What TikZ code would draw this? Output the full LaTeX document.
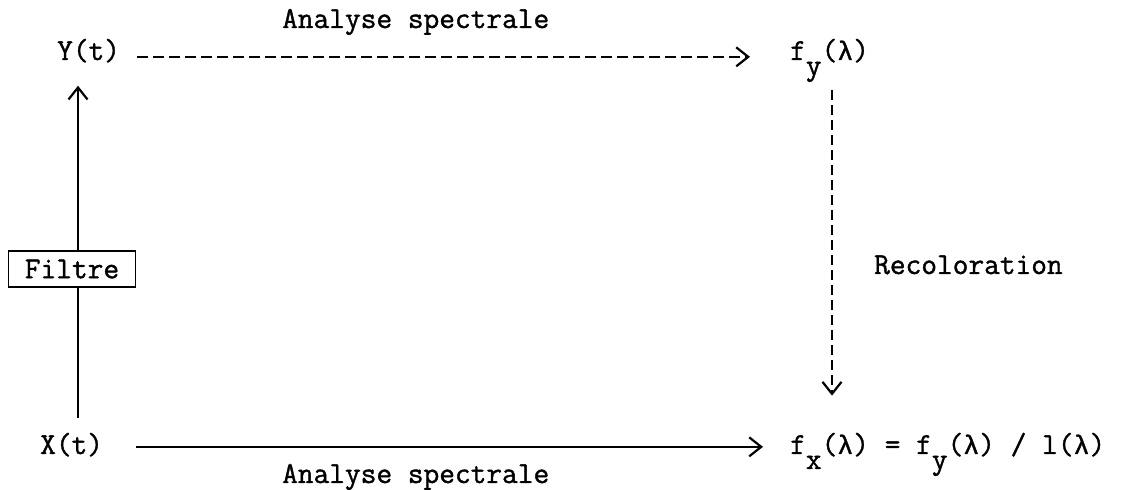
\documentclass[tikz,border=0pt]{standalone}
\usepackage{fontspec}
\setmainfont{Latin Modern Mono}[RawFeature={embolden=1.2}]
\newfontfamily\lamfont{Liberation Mono}[RawFeature={embolden=1.2}]
\usetikzlibrary{arrows.meta,positioning}
\newcommand{\lowsub}[1]{\raisebox{-15pt}{#1}}
\newcommand{\lam}{{\lamfont\fontsize{26.7}{32}\selectfont λ}}

\begin{document}
\begin{tikzpicture}[
  x=1pt, y=1pt,
  font=\fontsize{30.5}{36}\selectfont,
  lbl/.style={inner sep=0pt, anchor=base west},
  filtrebox/.style={rectangle, draw=black, line width=1.8pt, fill=white,
                    minimum width=127pt, minimum height=36pt, inner sep=0pt},
  arr/.style={-{Straight Barb[length=12pt,width=19pt]}, line width=2.2pt},
  dasharr/.style={arr, dash pattern=on 11pt off 5pt}
]
\useasboundingbox (0,0) rectangle (1125,490);

\node[lbl] (anatop) at (282,462) {Analyse spectrale};
\node[lbl] (Y) at (57,430) {Y(t)};
\node[lbl] (fy) at (790,430) {f\lowsub{y}(\lam)};
\node[lbl] (X) at (40,36) {X(t)};
\node[lbl] (fx) at (790,36) {f\lowsub{x}(\lam) = f\lowsub{y}(\lam) / l(\lam)};
\node[lbl] (anabot) at (282,7) {Analyse spectrale};
\node[lbl] (rec) at (874,216) {Recoloration};
\node[filtrebox] (filtre) at (72,221) {Filtre};

\coordinate (xcol) at ([xshift=38pt]X.north west);
\coordinate (fcol) at ([xshift=42pt]fy.south west);

\draw[dasharr, shorten <=17pt, shorten >=40pt] ([yshift=1pt]Y.mid east) -- ([yshift=1pt]fy.mid west);
\draw[arr, shorten <=33pt, shorten >=27pt] ([yshift=5pt]X.mid east) -- ([yshift=5pt]fx.mid west);
\draw[dasharr, dash pattern=on 10pt off 5pt, shorten <=8pt, shorten >=37pt] (fcol) -- (fcol |- fx.north);
\draw[line width=2.2pt, shorten <=15pt] (xcol) -- (xcol |- filtre.south);
\draw[arr, shorten >=23pt] (xcol |- filtre.north) -- (xcol |- Y.south);

\end{tikzpicture}
\end{document}
